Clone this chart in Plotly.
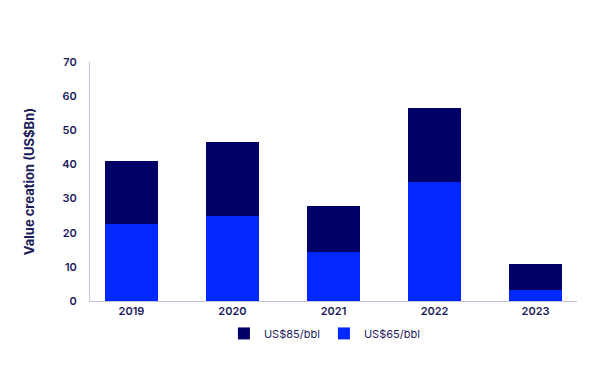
import plotly.graph_objects as go

years = ["2019", "2020", "2021", "2022", "2023"]
val_65 = [22.6, 25.0, 14.3, 35.0, 3.2]
val_85_extra = [18.4, 21.6, 13.4, 21.5, 7.6]

navy = "#000066"
blue = "#0028FF"
text_col = "#1c1c5a"
axis_col = "#c4c0dc"

fig = go.Figure()
fig.add_trace(go.Bar(x=years, y=val_65, name="US$65/bbl", marker=dict(color=blue, line=dict(width=0)), width=0.53))
fig.add_trace(go.Bar(x=years, y=val_85_extra, name="US$85/bbl", marker=dict(color=navy, line=dict(width=0)), width=0.53))

fig.update_layout(
    barmode="stack",
    width=592, height=372,
    margin=dict(l=82, r=23, t=54, b=79, autoexpand=False),
    paper_bgcolor="white", plot_bgcolor="white",
    font=dict(family="Inter, Roboto, sans-serif", color=text_col, size=11),
    showlegend=True,
    legend=dict(orientation="h", x=0.275, xanchor="left", y=-0.075, yanchor="top",
                traceorder="reversed", font=dict(size=11, color=text_col),
                itemwidth=30, entrywidth=55),
    xaxis=dict(showline=True, linecolor=axis_col, linewidth=1, ticks="", showgrid=False,
               automargin=False,
               range=[-0.41, 4.41], tickfont=dict(size=11, color=text_col, weight=600)),
    yaxis=dict(showline=True, linecolor=axis_col, linewidth=1, ticks="", showgrid=False,
               automargin=False,
               range=[0, 70], dtick=10, zeroline=False, ticklabelstandoff=10,
               tickfont=dict(size=11, color=text_col, weight=600),
               title=dict(text="Value creation (US$Bn)", standoff=24,
                          font=dict(size=13, color=text_col, weight=700))),
)

fig.write_html("out.html")
